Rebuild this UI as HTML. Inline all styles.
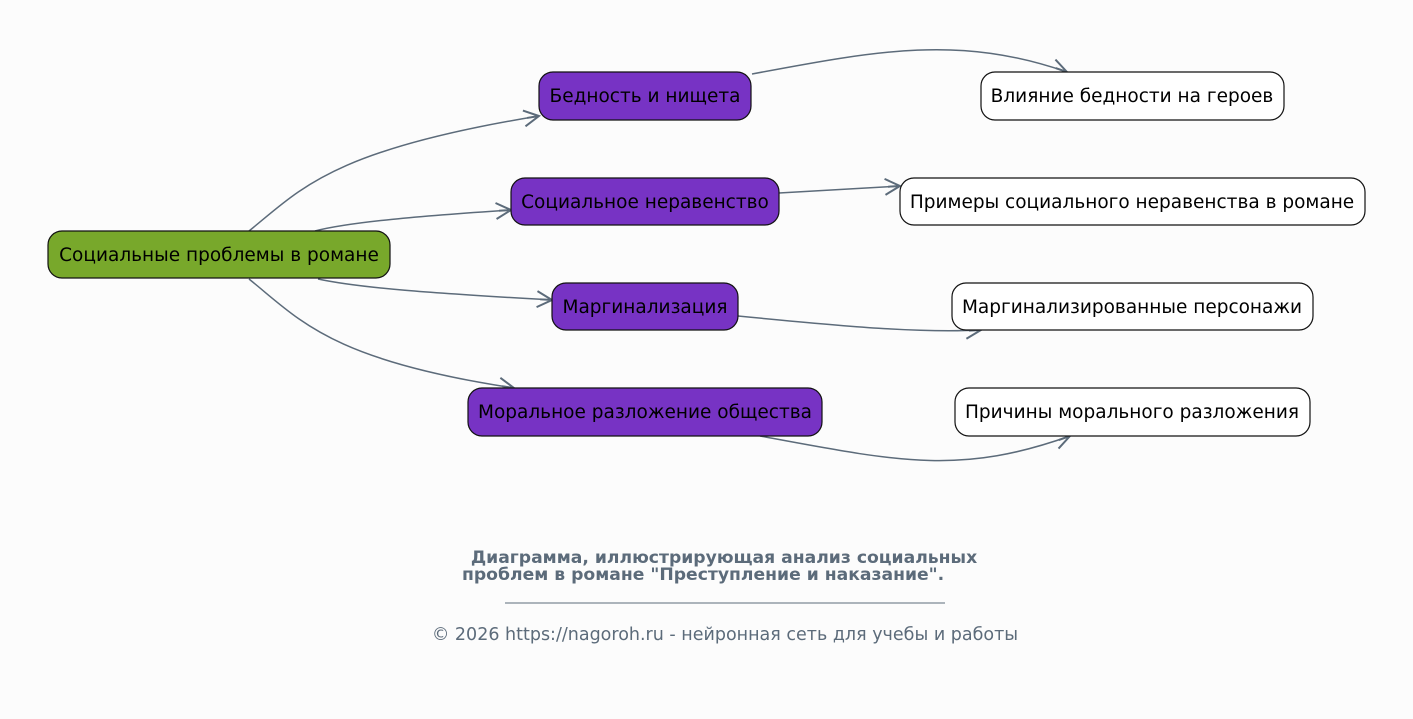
<!DOCTYPE html>
<html><head><meta charset="utf-8"><style>
body{margin:0;background:#fcfcfc;}
svg{display:block;}
text{font-family:"DejaVu Sans","Liberation Sans",sans-serif;}
</style></head><body>
<svg width="1413" height="719" viewBox="0 0 1413 719">
<defs>
<marker id="a" viewBox="0 0 20 20" refX="18" refY="10" markerWidth="20" markerHeight="20" markerUnits="userSpaceOnUse" orient="auto">
<path d="M3,2 L18,10 L3,18 M18,10 L6,10" fill="none" stroke="#5c6b7a" stroke-width="2"/>
</marker>
</defs>
<g fill="none" stroke="#5c6b7a" stroke-width="1.5" marker-end="url(#a)">
<path d="M249,231 C300,190 330,150 539,116"/>
<path d="M315,231 C350,222 420,216 511,210"/>
<path d="M318,279 C360,288 430,293 552,300"/>
<path d="M249,279 C300,320 330,360 514,388"/>
<path d="M752,74 C880,50 960,35 1067,72"/>
<path d="M779,193 L900,186"/>
<path d="M738,316 C850,327 920,333 981,330"/>
<path d="M760,436 C900,462 960,475 1070,436"/>
</g>
<g stroke="#111" stroke-width="1.2">
<rect x="48" y="231" width="342" height="47" rx="14" fill="#78a82b"/>
<rect x="539" y="72" width="212" height="48" rx="14" fill="#7733c4"/>
<rect x="511" y="178" width="268" height="47" rx="14" fill="#7733c4"/>
<rect x="552" y="283" width="186" height="47" rx="14" fill="#7733c4"/>
<rect x="468" y="388" width="354" height="48" rx="14" fill="#7733c4"/>
<rect x="981" y="72" width="303" height="48" rx="14" fill="#fff"/>
<rect x="900" y="178" width="465" height="47" rx="14" fill="#fff"/>
<rect x="952" y="283" width="361" height="47" rx="14" fill="#fff"/>
<rect x="955" y="388" width="355" height="48" rx="14" fill="#fff"/>
</g>
<g font-size="18.5" fill="#000" text-anchor="middle">
<text x="219" y="261">Социальные проблемы в романе</text>
<text x="645" y="102">Бедность и нищета</text>
<text x="645" y="208">Социальное неравенство</text>
<text x="645" y="313">Маргинализация</text>
<text x="645" y="418">Моральное разложение общества</text>
<text x="1132" y="102">Влияние бедности на героев</text>
<text x="1132" y="208">Примеры социального неравенства в романе</text>
<text x="1132" y="313">Маргинализированные персонажи</text>
<text x="1132" y="418">Причины морального разложения</text>
</g>
<g fill="#5c6b7a">
<text x="724" y="563" font-size="17.2" font-weight="bold" text-anchor="middle">Диаграмма, иллюстрирующая анализ социальных</text>
<text x="462" y="580" font-size="17.2" font-weight="bold">проблем в романе "Преступление и наказание".</text>
<line x1="505" y1="603" x2="945" y2="603" stroke="#5c6b7a" stroke-width="1"/>
<text x="725" y="640" font-size="17.5" text-anchor="middle">© 2026 https://nagoroh.ru - нейронная сеть для учебы и работы</text>
</g>
</svg>
</body></html>
